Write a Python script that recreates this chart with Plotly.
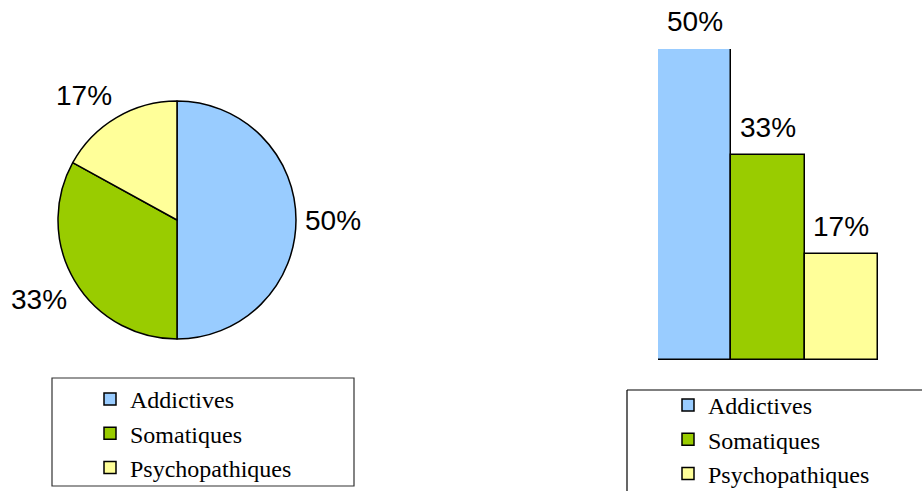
import math
import plotly.graph_objects as go

categories = ["Addictives", "Somatiques", "Psychopathiques"]
values = [50, 33, 17]
colors = ["#99CCFF", "#99CC00", "#FFFF99"]

W, H = 922, 491
def px(x): return x / W
def py(y): return 1 - y / H

fig = go.Figure()

# Pie
cx, cy, r = 177, 220, 119
fig.add_trace(go.Pie(
    labels=categories, values=values, sort=False, direction="clockwise", rotation=0,
    marker=dict(colors=colors, line=dict(color="black", width=1.5)),
    textinfo="none",
    domain=dict(x=[px(cx - r), px(cx + r)], y=[py(cy + r), py(cy - r)]),
    legend="legend", hoverinfo="label+percent",
))

# Pie labels outside, placed at each slice's mid angle
lblfont = dict(family="Liberation Sans, Arial", size=28, color="black")
total = sum(values)
cum = 0
gap, lw, lh = 8, 57, 30
for val in values:
    mid = math.radians((cum + val / 2) / total * 360)
    cum += val
    dx, dy = math.sin(mid), math.cos(mid)
    sx = 0 if abs(dx) < 0.05 else (1 if dx > 0 else -1)
    sy = 0 if abs(dy) < 0.05 else (1 if dy > 0 else -1)
    ex = cx + (r + gap) * dx + sx * lw / 2
    ey = cy - (r + gap) * dy - sy * lh / 2
    fig.add_annotation(x=px(ex), y=py(ey), xref="paper", yref="paper", text=f"{val}%",
                       showarrow=False, xanchor="center", yanchor="middle", font=lblfont)

# Bars
for cat, val, col in zip(categories, values, colors):
    fig.add_trace(go.Bar(
        x=[cat], y=[val], name=cat, marker=dict(color=col, line=dict(color="black", width=1.5)),
        xaxis="x", yaxis="y", legend="legend2", showlegend=True, hoverinfo="x+y",
    ))
    fig.add_annotation(x=cat, y=val, xref="x", yref="y", text=f"{val}%", showarrow=False,
                       yanchor="bottom", yshift=10, font=lblfont)

legfont = dict(family="Liberation Serif, Times New Roman", size=24, color="black")
fig.update_layout(
    width=W, height=H, margin=dict(l=0, r=0, t=0, b=0, autoexpand=False),
    paper_bgcolor="white", plot_bgcolor="white",
    barmode="overlay", bargap=0,
    xaxis=dict(domain=[px(658), px(878)], visible=False, range=[-0.5, 2.5]),
    yaxis=dict(domain=[py(360), py(49)], visible=False, range=[0, 50]),
    legend=dict(x=px(90), y=py(377), xanchor="left", yanchor="top", font=legfont,
                bgcolor="rgba(0,0,0,0)", borderwidth=0, traceorder="normal"),
    legend2=dict(x=px(668), y=py(383), xanchor="left", yanchor="top", font=legfont,
                 bgcolor="rgba(0,0,0,0)", borderwidth=0, traceorder="normal"),
    shapes=[
        dict(type="rect", xref="paper", yref="paper", x0=px(52), x1=px(354), y0=py(486), y1=py(378),
             line=dict(color="#333333", width=1.2)),
        dict(type="line", xref="paper", yref="paper", x0=px(627), x1=px(627), y0=py(495), y1=py(390),
             line=dict(color="black", width=1.2)),
        dict(type="line", xref="paper", yref="paper", x0=px(627), x1=px(925), y0=py(390), y1=py(390),
             line=dict(color="black", width=1.2)),
    ],
)

fig.write_html("out.html")
